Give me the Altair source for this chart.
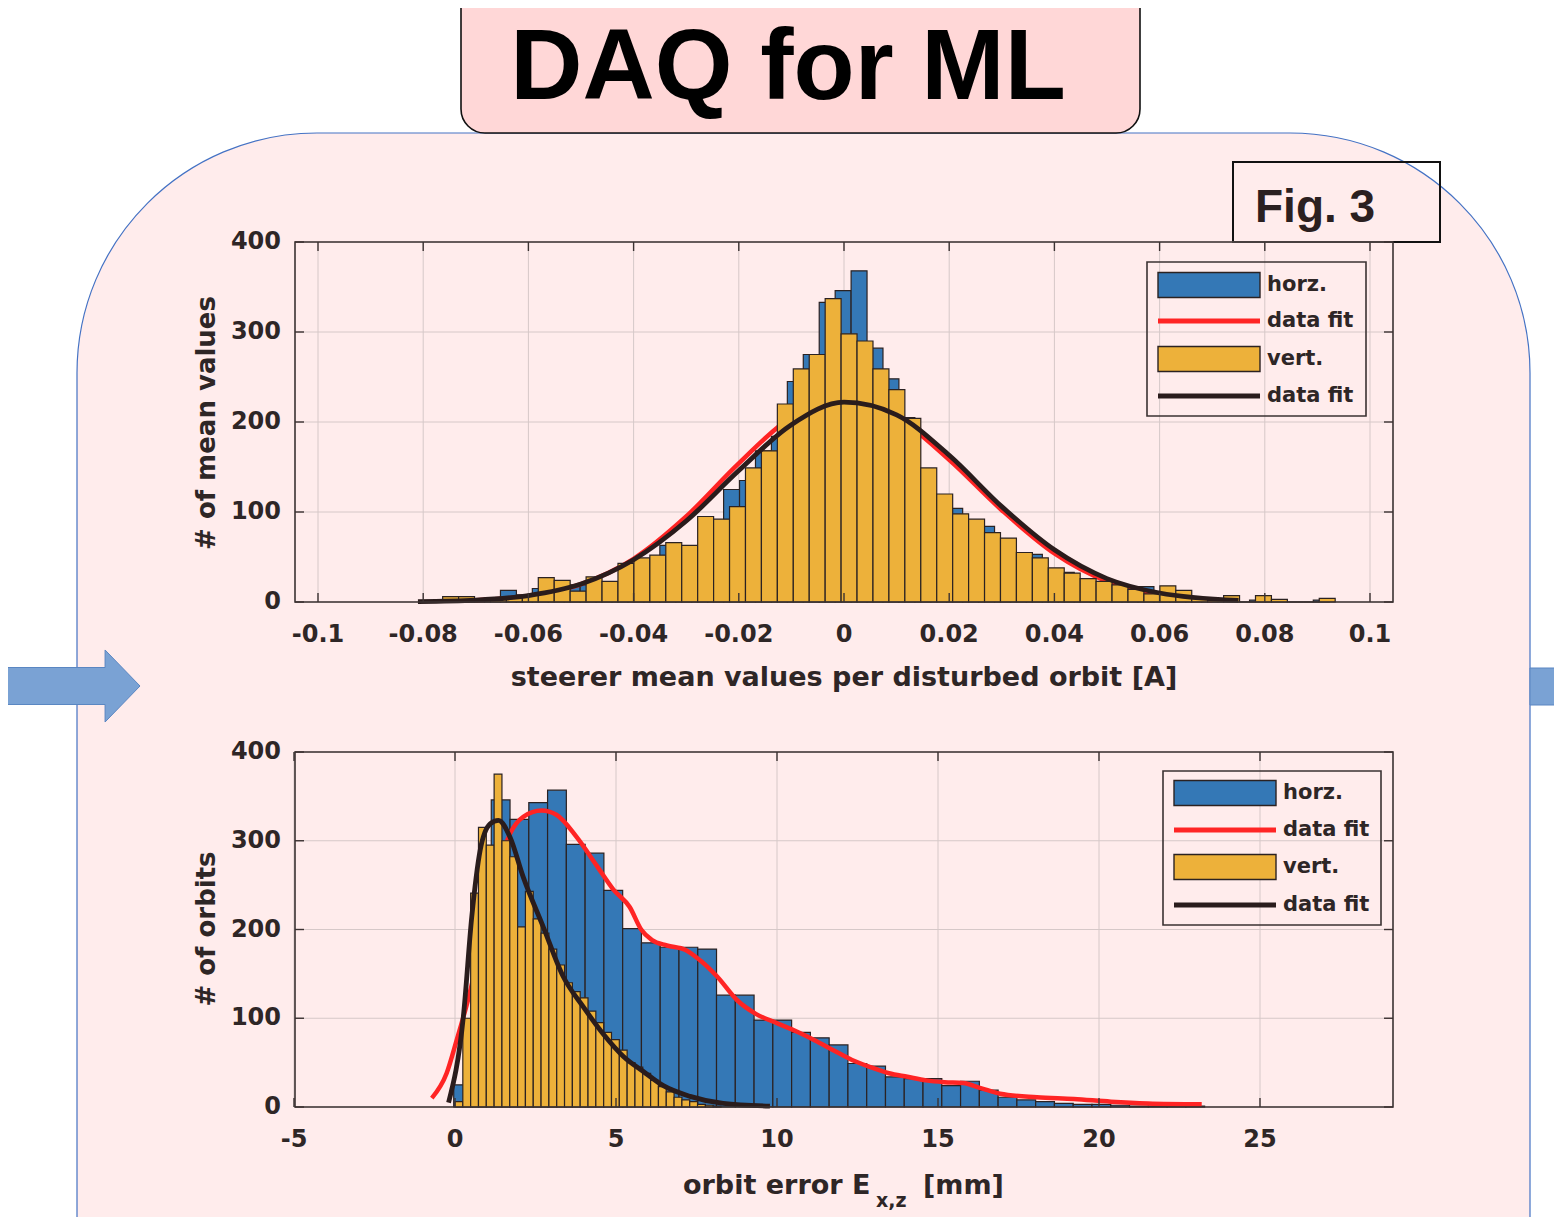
import altair as alt
import pandas as pd

OFF = 8  # page margin: page pixel = chart pixel + OFF

# ------------------------------------------------------------------ data
TOP_X_TICKS = [-0.1, -0.08, -0.06, -0.04, -0.02, 0.0, 0.02, 0.04, 0.06, 0.08, 0.1]
TOP_X_LABELS = ["-0.1", "-0.08", "-0.06", "-0.04", "-0.02", "0", "0.02", "0.04", "0.06", "0.08", "0.1"]
BOT_X_TICKS = [-5, 0, 5, 10, 15, 20, 25]
BOT_X_LABELS = ["-5", "0", "5", "10", "15", "20", "25"]
Y_TICKS = [0, 100, 200, 300, 400]
Y_LABELS = ["0", "100", "200", "300", "400"]
LEGEND_LABELS = ["horz.", "data fit", "vert.", "data fit"]

# top: steerer mean values [A]
TOP_BIN_WIDTH = 0.00303
TOP_HORZ_START = -0.0744
TOP_HORZ_COUNTS = [3, 2, 4, 13, 8, 15, 20, 19, 19, 20, 22, 40, 45, 63, 55, 60, 85, 125, 135, 168,
                   184, 245, 275, 333, 346, 368, 282, 248, 205, 145, 118, 104, 90, 84, 65, 50, 53, 37,
                   33, 25, 20, 15, 12, 17, 10, 8, 3, 2, 0, 0, 2, 0, 0, 0, 2]
TOP_VERT_START = -0.0763
TOP_VERT_COUNTS = [6, 6, 3, 3, 5, 8, 27, 24, 12, 28, 23, 43, 49, 52, 66, 63, 95, 92, 106, 149,
                   168, 220, 259, 275, 337, 298, 290, 259, 236, 204, 149, 120, 98, 92, 77, 71, 55, 49,
                   38, 32, 26, 23, 19, 14, 9, 18, 13, 5, 2, 7, 0, 7, 3, 0, 0, 4]
TOP_HORZ_FIT_X = [-0.07, -0.06, -0.05, -0.04, -0.03, -0.02, -0.01, 0.0, 0.01, 0.02, 0.03, 0.04, 0.05, 0.06, 0.07]
TOP_HORZ_FIT_Y = [1.9, 6.8, 19.9, 48, 95, 154, 205, 222, 205, 158, 102, 54, 23, 8, 2]
TOP_VERT_FIT_X = [-0.081, -0.07, -0.06, -0.05, -0.04, -0.03, -0.02, -0.01, 0.0, 0.01, 0.02, 0.03, 0.04, 0.05, 0.06, 0.075]
TOP_VERT_FIT_Y = [0.5, 2.1, 7.2, 20, 47, 90, 146, 197, 222, 208, 163, 106, 58, 26, 10, 1.7]

# bottom: orbit error [mm]
BOT_HORZ_WIDTH = 0.583
BOT_HORZ_START = -0.04
BOT_HORZ_COUNTS = [25, 220, 346, 324, 343, 357, 296, 286, 244, 201, 185, 180, 180, 178, 126, 126, 98, 98,
                   84, 78, 70, 49, 46, 34, 32, 32, 24, 29, 19, 11, 8, 6, 4, 3, 3, 2, 1, 1, 1, 1]
BOT_VERT_WIDTH = 0.243
BOT_VERT_START = 0.0
BOT_VERT_COUNTS = [6, 100, 241, 315, 295, 375, 300, 282, 203, 243, 212, 196, 178, 160, 140, 130, 123, 108,
                   95, 84, 76, 64, 50, 45, 38, 30, 23, 17, 11, 8, 6, 3, 2, 1]
BOT_HORZ_FIT_X = [-0.72, -0.26, 0.05, 0.4, 0.9, 1.3, 1.71, 2.12, 2.69, 3.16, 3.78, 4.40, 4.92, 5.43, 5.78,
                  6.12, 6.58, 7.16, 7.62, 8.14, 8.77, 9.34, 10.03, 10.61, 11.18, 11.75, 12.33, 12.90, 13.48,
                  14.05, 14.63, 15.20, 15.78, 16.35, 16.93, 18.07, 19.22, 20.37, 21.52, 23.19]
BOT_HORZ_FIT_Y = [10, 38, 75, 120, 200, 265, 308, 327, 334, 329, 304, 272, 245, 225, 200, 188, 182, 177,
                  165, 147, 120, 105, 94, 85, 75, 64, 53, 45, 38, 34, 30, 28, 27, 21, 15, 11, 9, 6, 4, 3]
BOT_VERT_FIT_X = [-0.2, 0.26, 0.52, 0.78, 1.09, 1.35, 1.71, 2.12, 2.74, 3.36, 3.98, 4.61, 5.23, 5.85, 6.47, 7.30, 8.33, 9.78]
BOT_VERT_FIT_Y = [5, 102, 214, 289, 319, 323, 304, 259, 203, 147, 113, 82, 57, 40, 24, 12, 4, 1]

# ------------------------------------------------------------------ styles
BLUE = "#3478B6"
YELLOW = "#EDB13A"
RED = "#FF2424"
BLACK = "#2A1C1C"
EDGE = "#2B2222"
GRID = "#D6C8C8"
FRAME = "#3B3232"
TXT = "#2E2626"
AX_FONT = "DejaVu Sans"
TITLE_FONT = "Liberation Sans"
SLIDE_PINK = "#FFECEC"
TITLE_PINK = "#FFD7D7"
ARROW = "#7AA2D4"


def px(v):
    return v - OFF


one = pd.DataFrame({"k": [0]})


def deco_rect(x1, x2, y1, y2, **kw):
    return alt.Chart(one).mark_rect(**kw).encode(
        x=alt.value(px(x1)), x2=alt.value(px(x2)), y=alt.value(px(y1)), y2=alt.value(px(y2)))


def deco_text(x, y, txt, **kw):
    return alt.Chart(one).mark_text(**kw).encode(
        x=alt.value(px(x)), y=alt.value(px(y)), text=alt.value(txt))


def deco_hline(x1, x2, y, **kw):
    return alt.Chart(one).mark_rule(**kw).encode(
        x=alt.value(px(x1)), x2=alt.value(px(x2)), y=alt.value(px(y)))


def bins_df(start, width, counts):
    return pd.DataFrame({
        "x0": [start + i * width for i in range(len(counts))],
        "x1": [start + (i + 1) * width for i in range(len(counts))],
        "c": counts,
    })


def panel(xs, ys, box, xticks, xlabels, xlab_y, hbins, vbins, hfit, vfit):
    L, R, T, B = box
    xt = pd.DataFrame({"t": xticks, "lab": xlabels})
    yt = pd.DataFrame({"t": Y_TICKS, "lab": Y_LABELS})

    def X(f):
        return alt.X(f, type="quantitative", scale=xs, axis=None)

    def Y(f):
        return alt.Y(f, type="quantitative", scale=ys, axis=None)

    layers = []
    # grid
    layers.append(alt.Chart(xt).mark_rule(color=GRID, strokeWidth=1).encode(
        x=X("t"), y=alt.value(px(T)), y2=alt.value(px(B))))
    layers.append(alt.Chart(yt).mark_rule(color=GRID, strokeWidth=1).encode(
        y=Y("t"), x=alt.value(px(L)), x2=alt.value(px(R))))
    # horz bars, horz fit, vert bars, vert fit
    layers.append(alt.Chart(hbins).mark_rect(fill=BLUE, stroke=EDGE, strokeWidth=1.2).encode(
        x=X("x0"), x2="x1", y=Y("c"), y2=alt.datum(0)))
    layers.append(alt.Chart(pd.DataFrame({"x": hfit[0], "y": hfit[1]})).mark_line(
        color=RED, strokeWidth=4.5, interpolate="monotone").encode(x=X("x"), y=Y("y")))
    layers.append(alt.Chart(vbins).mark_rect(fill=YELLOW, stroke=EDGE, strokeWidth=1.2).encode(
        x=X("x0"), x2="x1", y=Y("c"), y2=alt.datum(0)))
    layers.append(alt.Chart(pd.DataFrame({"x": vfit[0], "y": vfit[1]})).mark_line(
        color=BLACK, strokeWidth=4.8, interpolate="monotone").encode(x=X("x"), y=Y("y")))
    # frame
    layers.append(deco_rect(L, R, T, B, fillOpacity=0, stroke=FRAME, strokeWidth=1.6))
    # tick marks (inside)
    layers.append(alt.Chart(xt).mark_rule(color=FRAME, strokeWidth=1.4).encode(
        x=X("t"), y=alt.value(px(B)), y2=alt.value(px(B) - 9)))
    layers.append(alt.Chart(xt).mark_rule(color=FRAME, strokeWidth=1.4).encode(
        x=X("t"), y=alt.value(px(T)), y2=alt.value(px(T) + 9)))
    layers.append(alt.Chart(yt).mark_rule(color=FRAME, strokeWidth=1.4).encode(
        y=Y("t"), x=alt.value(px(L)), x2=alt.value(px(L) + 9)))
    layers.append(alt.Chart(yt).mark_rule(color=FRAME, strokeWidth=1.4).encode(
        y=Y("t"), x=alt.value(px(R)), x2=alt.value(px(R) - 9)))
    # tick labels
    layers.append(alt.Chart(xt).mark_text(font=AX_FONT, fontWeight="bold", fontSize=24, color=TXT,
                                          align="center", baseline="middle").encode(
        x=X("t"), y=alt.value(px(xlab_y)), text="lab:N"))
    layers.append(alt.Chart(yt).mark_text(font=AX_FONT, fontWeight="bold", fontSize=24, color=TXT,
                                          align="right", baseline="middle").encode(
        y=Y("t"), x=alt.value(px(L - 14)), text="lab:N"))
    return layers


def legend(L, T, R, B, sx1, sx2, tx, rows):
    out = [deco_rect(L, R, T, B, fillOpacity=0, stroke=FRAME, strokeWidth=1.6)]
    # rows: y centres of the four entries
    out.append(deco_rect(sx1, sx2, rows[0] - 12.5, rows[0] + 12.5, fill=BLUE, stroke=EDGE, strokeWidth=1.4))
    out.append(deco_hline(sx1, sx2, rows[1], color=RED, strokeWidth=5))
    out.append(deco_rect(sx1, sx2, rows[2] - 12.5, rows[2] + 12.5, fill=YELLOW, stroke=EDGE, strokeWidth=1.4))
    out.append(deco_hline(sx1, sx2, rows[3], color=BLACK, strokeWidth=5))
    for lab, yy in zip(LEGEND_LABELS, rows):
        out.append(deco_text(tx, yy, lab, font=AX_FONT, fontWeight="bold", fontSize=21, color=TXT,
                             align="left", baseline="middle"))
    return out


# ------------------------------------------------------------------ scales
top_x = alt.Scale(domain=[-0.1, 0.1], range=[px(318), px(1370)], nice=False, zero=False)
top_y = alt.Scale(domain=[0, 400], range=[px(602), px(242)], nice=False, zero=False)
bot_x = alt.Scale(domain=[0, 25], range=[px(455), px(1260)], nice=False, zero=False)
bot_y = alt.Scale(domain=[0, 400], range=[px(1107), px(752)], nice=False, zero=False)

layers = []
# slide decorations
layers.append(deco_rect(77, 1530, 133, 1800, cornerRadius=240, fill=SLIDE_PINK, stroke="#4472C4", strokeWidth=1.2))
layers.append(deco_rect(461, 1140, -40, 133, cornerRadius=24, fill=TITLE_PINK, stroke="#111111", strokeWidth=1.6))
layers.append(deco_text(788, 99, "DAQ for ML", font=TITLE_FONT, fontWeight="bold", fontSize=100,
                        color="#000000", align="center", baseline="alphabetic"))
layers.append(alt.Chart(one).mark_point(
    shape="M-1,-0.27L0.49,-0.27L0.49,-0.526L1,0L0.49,0.526L0.49,0.27L-1,0.27Z",
    filled=True, size=137 * 137, fill=ARROW, stroke="#5A86C2", strokeWidth=1, opacity=1).encode(
    x=alt.value(px(71.5)), y=alt.value(px(686))))
layers.append(deco_rect(1530, 1570, 668, 705, fill=ARROW, stroke="#5A86C2", strokeWidth=1))
layers.append(deco_rect(1233, 1440, 162, 242, fillOpacity=0, stroke="#111111", strokeWidth=2))
layers.append(deco_text(1255, 222, "Fig. 3", font=TITLE_FONT, fontWeight="bold", fontSize=46,
                        color="#2B2020", align="left", baseline="alphabetic"))

# top panel
layers += panel(top_x, top_y, (295, 1393, 242, 602), TOP_X_TICKS, TOP_X_LABELS, 635,
                bins_df(TOP_HORZ_START, TOP_BIN_WIDTH, TOP_HORZ_COUNTS),
                bins_df(TOP_VERT_START, TOP_BIN_WIDTH, TOP_VERT_COUNTS),
                (TOP_HORZ_FIT_X, TOP_HORZ_FIT_Y), (TOP_VERT_FIT_X, TOP_VERT_FIT_Y))
layers.append(deco_text(844, 678, "steerer mean values per disturbed orbit [A]", font=AX_FONT,
                        fontWeight="bold", fontSize=27, color=TXT, align="center", baseline="middle"))
layers.append(deco_text(207, 423, "# of mean values", font=AX_FONT, fontWeight="bold", fontSize=26,
                        color=TXT, align="center", baseline="middle", angle=270))
layers += legend(1147, 262, 1366, 416, 1158, 1260, 1267, [285, 321, 359, 396])

# bottom panel
layers += panel(bot_x, bot_y, (295, 1393, 752, 1107), BOT_X_TICKS, BOT_X_LABELS, 1140,
                bins_df(BOT_HORZ_START, BOT_HORZ_WIDTH, BOT_HORZ_COUNTS),
                bins_df(BOT_VERT_START, BOT_VERT_WIDTH, BOT_VERT_COUNTS),
                (BOT_HORZ_FIT_X, BOT_HORZ_FIT_Y), (BOT_VERT_FIT_X, BOT_VERT_FIT_Y))
layers.append(deco_text(683, 1194, "orbit error E", font=AX_FONT, fontWeight="bold", fontSize=27,
                        color=TXT, align="left", baseline="alphabetic"))
layers.append(deco_text(876, 1207, "x,z", font=AX_FONT, fontWeight="bold", fontSize=19,
                        color=TXT, align="left", baseline="alphabetic"))
layers.append(deco_text(923, 1194, "[mm]", font=AX_FONT, fontWeight="bold", fontSize=27,
                        color=TXT, align="left", baseline="alphabetic"))
layers.append(deco_text(207, 929, "# of orbits", font=AX_FONT, fontWeight="bold", fontSize=26,
                        color=TXT, align="center", baseline="middle", angle=270))
layers += legend(1163, 771, 1381, 925, 1174, 1276, 1283, [793, 830, 867, 905])

chart = alt.layer(*layers).resolve_scale(x="independent", y="independent").properties(
    width=1546, height=1209, autosize=alt.AutoSizeParams(type="none"), padding=0,
    background="white").configure_view(stroke=None)

chart.save("out.html", embed_options={"renderer": "svg", "actions": False})
